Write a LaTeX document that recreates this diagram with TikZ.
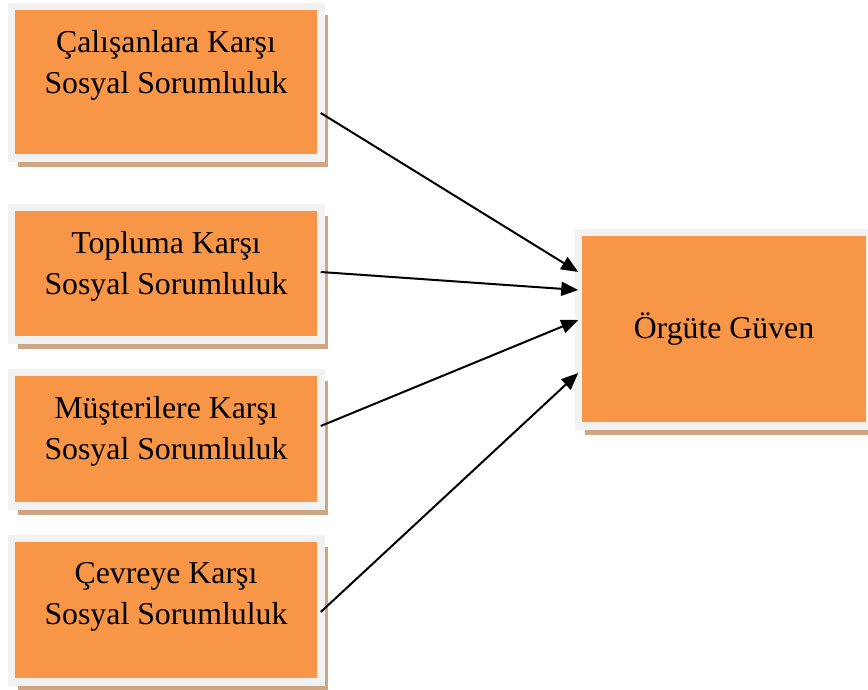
\documentclass[tikz,border=0pt]{standalone}
\usepackage{fontspec}
\setmainfont{Liberation Serif}
\usetikzlibrary{arrows.meta,shadows}

\definecolor{boxorange}{HTML}{F79646}
\definecolor{framegrey}{HTML}{F2F2F2}
\definecolor{shadowtan}{RGB}{206,166,132}

\tikzset{
  factor/.style={rectangle, fill=boxorange, draw=framegrey, line width=7.5pt,
    inner sep=0pt, outer sep=0pt,
    drop shadow={shadow xshift=6.75pt, shadow yshift=-8.75pt, fill=shadowtan, opacity=1}},
  dimbox/.style={factor, minimum width=309.5pt},
  caption/.style={anchor=north, yshift=-24pt, inner sep=0pt, align=center,
    font=\fontsize{31.8}{41}\selectfont},
  link/.style={-{Triangle[length=17pt,width=14pt]}, line width=2pt},
}

\begin{document}
\begin{tikzpicture}[x=1pt,y=-1pt]
    \useasboundingbox (0,0) rectangle (868,689);
    % four dimensions on the left
    \node[dimbox, minimum height=151.5pt, label={[caption]north:{Çalışanlara Karşı\\Sosyal Sorumluluk}}] (calisan) at (166,82) {};
    \node[dimbox, minimum height=132.5pt, label={[caption]north:{Topluma Karşı\\Sosyal Sorumluluk}}] (toplum) at (166,273.5) {};
    \node[dimbox, minimum height=133.5pt, label={[caption]north:{Müşterilere Karşı\\Sosyal Sorumluluk}}] (musteri) at (166,439) {};
    \node[dimbox, minimum height=143.5pt, label={[caption]north:{Çevreye Karşı\\Sosyal Sorumluluk}}] (cevre) at (166,610) {};
    % outcome
    \node[factor, minimum width=291.5pt, minimum height=193.5pt, font=\fontsize{31.8}{41}\selectfont] (guven) at (724,329) {Örgüte Güven};
    % paths
    \draw[link] ([yshift=-31pt]calisan.east) -- ([yshift=57pt]guven.west);
    \draw[link] ([yshift=1.5pt]toplum.east) -- ([yshift=39pt]guven.west);
    \draw[link] ([yshift=13pt]musteri.east) -- ([yshift=9pt]guven.west);
    \draw[link] ([yshift=-2pt]cevre.east) -- ([yshift=-44pt]guven.west);
\end{tikzpicture}
\end{document}
